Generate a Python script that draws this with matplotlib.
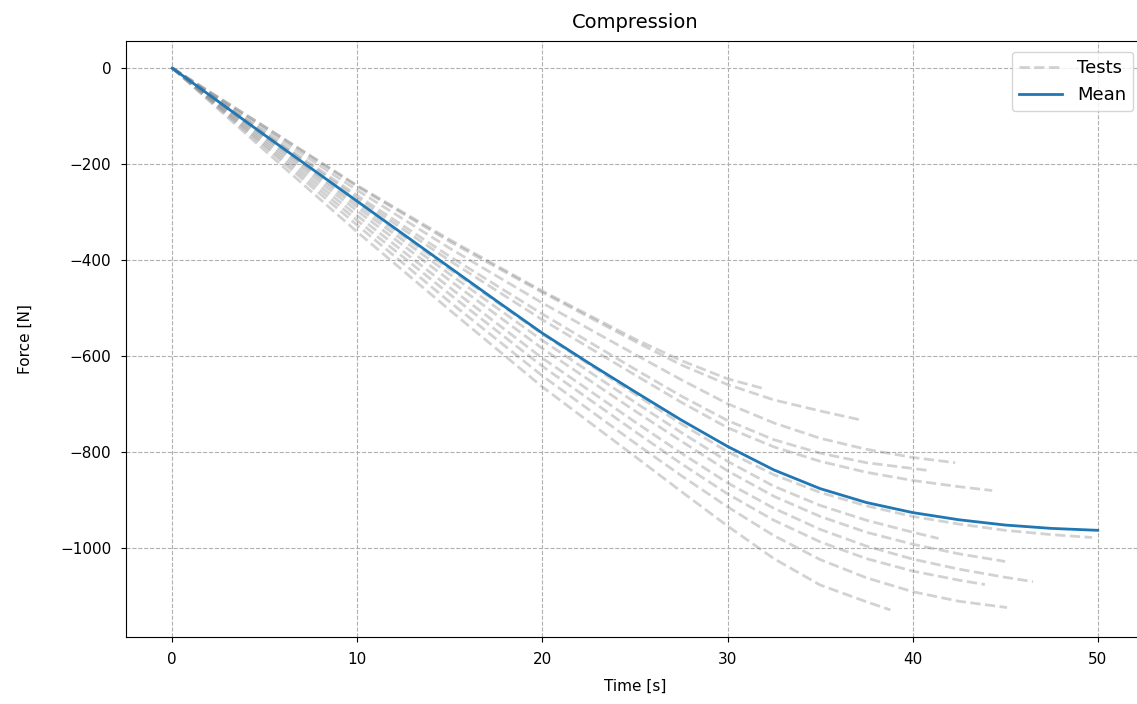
import matplotlib
matplotlib.use("Agg")
import matplotlib.pyplot as plt
import numpy as np

# test curves (time [s], force [N])
t_a = [0, 5, 10, 15, 20, 25, 27.5, 30, 32.0]
f_a = [0, -122, -245, -358, -465, -565, -610, -648, -669]
t_b = [0, 5, 10, 15, 20, 25, 27.5, 30, 32.5, 35, 37.1]
f_b = [0, -123, -247, -362, -468, -570, -619, -660, -692, -715, -733]
t_d = [0, 5, 10, 15, 20, 25, 27.5, 30, 32.5, 35, 37.5, 40, 42.3]
f_d = [0, -128, -255, -376, -490, -597, -650, -700, -740, -772, -795, -812, -823]
t_c = [0, 5, 10, 15, 20, 25, 27.5, 30, 32.5, 35, 37.5, 40, 40.8]
f_c = [0, -134, -266, -393, -513, -628, -684, -735, -775, -803, -823, -835, -839]
t_e = [0, 5, 10, 15, 20, 25, 27.5, 30, 32.5, 35, 37.5, 40, 42.5, 44.3]
f_e = [0, -137, -272, -402, -525, -640, -697, -750, -790, -820, -843, -860, -873, -881]
t_g = [0, 5, 10, 15, 20, 25, 27.5, 30, 32.5, 35, 37.5, 40, 42.5, 45, 47.5, 49.7]
f_g = [0, -142, -283, -420, -555, -680, -742, -800, -848, -885, -913, -935, -951, -964, -973, -979]
t_f = [0, 5, 10, 15, 20, 25, 27.5, 30, 32.5, 35, 37.5, 40, 41.4]
f_f = [0, -145, -290, -430, -568, -697, -760, -820, -872, -912, -943, -968, -981]
t_h = [0, 5, 10, 15, 20, 25, 27.5, 30, 32.5, 35, 37.5, 40, 42.5, 45.0]
f_h = [0, -150, -298, -443, -585, -715, -778, -840, -893, -935, -968, -993, -1013, -1029]
t_i = [0, 5, 10, 15, 20, 25, 27.5, 30, 32.5, 35, 37.5, 40, 42.5, 45, 46.5]
f_i = [0, -155, -308, -458, -605, -738, -803, -865, -918, -962, -997, -1024, -1045, -1062, -1071]
t_j = [0, 5, 10, 15, 20, 25, 27.5, 30, 32.5, 35, 37.5, 40, 42.5, 43.9]
f_j = [0, -160, -318, -472, -622, -758, -825, -888, -943, -988, -1023, -1049, -1068, -1077]
t_k = [0, 5, 10, 15, 20, 25, 27.5, 30, 32.5, 35, 37.5, 40, 42.5, 45.1]
f_k = [0, -165, -328, -488, -642, -782, -850, -915, -975, -1025, -1063, -1092, -1112, -1125]
t_l = [0, 5, 10, 15, 20, 25, 27.5, 30, 32.5, 35, 37.5, 38.8]
f_l = [0, -172, -342, -505, -665, -810, -883, -955, -1023, -1078, -1113, -1130]

tests = [(t_a, f_a), (t_b, f_b), (t_d, f_d), (t_c, f_c), (t_e, f_e), (t_g, f_g),
         (t_f, f_f), (t_h, f_h), (t_i, f_i), (t_j, f_j), (t_k, f_k), (t_l, f_l)]

# mean curve
t_mean = [0, 2.5, 5, 7.5, 10, 12.5, 15, 17.5, 20, 22.5, 25, 27.5, 30,
          32.5, 35, 37.5, 40, 42.5, 45, 47.5, 50]
f_mean = [0, -70, -140, -209, -278, -347, -416, -485, -553, -615, -675, -734, -789,
          -838, -877, -906, -927, -942, -953, -960, -964]

fig = plt.figure(figsize=(11.37, 7.04), dpi=100)
ax = fig.add_axes([126 / 1137, 67 / 704, 1018 / 1137, 596 / 704])

for i, (t, f) in enumerate(tests):
    ax.plot(t, f, '--', color='gray', alpha=0.35, lw=2,
            label='Tests' if i == 0 else None)
ax.plot(t_mean, f_mean, color='C0', lw=2, label='Mean')

ax.set_title('Compression', fontsize=14, pad=9)
ax.set_xlabel('Time [s]', fontsize=11, labelpad=9)
ax.set_ylabel('Force [N]', fontsize=11, labelpad=20)
ax.tick_params(labelsize=11, pad=7)
ax.grid(True, linestyle='--')
ax.legend(loc='upper right', fontsize=13, handlelength=2.4,
          bbox_to_anchor=(1.0, 1.0), borderaxespad=0.6)

fig.savefig('out.png', dpi=100)
